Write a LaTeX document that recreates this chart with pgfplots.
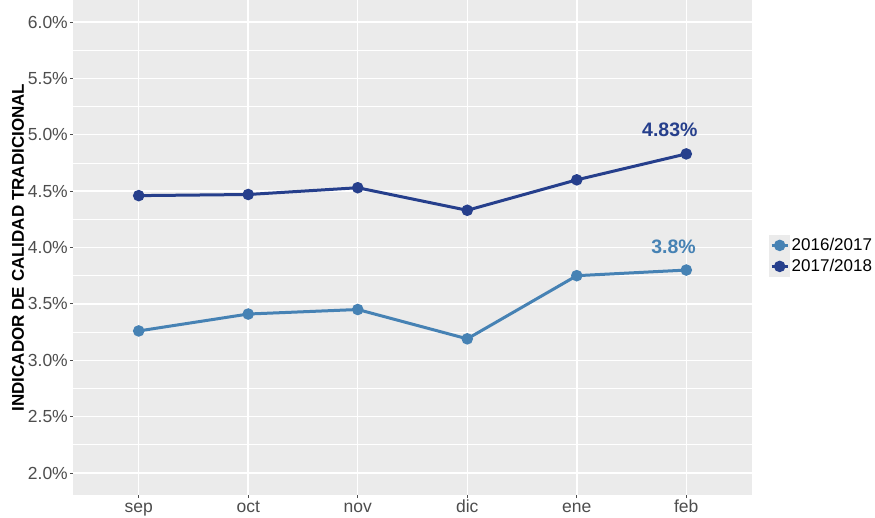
\documentclass[border=0pt]{standalone}
\usepackage{pgfplots}
\pgfplotsset{compat=1.18}
\usepackage{fontspec}
\setmainfont{Liberation Sans}

\definecolor{panelbg}{HTML}{EBEBEB}
\definecolor{tickgray}{HTML}{4D4D4D}
\definecolor{darkblue}{HTML}{263F8C}
\definecolor{steel}{HTML}{4682B4}

\pgfplotstableread{
x  v
0  3.26
1  3.41
2  3.45
3  3.19
4  3.75
5  3.80
}\seasonA
\pgfplotstableread{
x  v
0  4.46
1  4.47
2  4.53
3  4.33
4  4.60
5  4.83
}\seasonB

\begin{document}
\begin{tikzpicture}
\begin{axis}[
  at={(0pt,0pt)}, anchor=south west,
  scale only axis,
  width=679pt, height=495pt,
  xmin=-0.6, xmax=5.6,
  ymin=1.805, ymax=6.195,
  axis line style={draw=none},
  axis background/.style={fill=panelbg},
  xtick={0,...,5},
  xticklabels={sep,oct,nov,dic,ene,feb},
  ytick={2,2.5,...,6},
  yticklabels={2.0\%,2.5\%,3.0\%,3.5\%,4.0\%,4.5\%,5.0\%,5.5\%,6.0\%},
  minor y tick num=1,
  grid=both,
  major grid style={white, line width=1.5pt},
  minor grid style={white, line width=0.8pt},
  tick align=outside,
  major tick length=3pt,
  minor tick length=0pt,
  tick style={tickgray, line width=0.8pt},
  xtick pos=bottom, ytick pos=left,
  ticklabel style={font=\fontsize{17.5}{20}\selectfont, text=tickgray},
  xticklabel style={anchor=base, inner sep=0pt, yshift=-14pt},
  yticklabel style={anchor=east, inner sep=0pt, xshift=-2pt},
  ylabel={\textbf{INDICADOR DE CALIDAD TRADICIONAL}},
  every axis y label/.style={at={(axis description cs:0,0.5)}, rotate=90,
    anchor=center, yshift=55pt, font=\fontsize{17}{20}\selectfont},
  legend style={at={(axis description cs:1,0.483)}, anchor=west, xshift=14pt,
    draw=none, fill=none, font=\fontsize{17}{20}\selectfont,
    row sep=0pt, nodes={inner sep=1.5pt}},
  legend cell align=left,
  legend image code/.code={
    \fill[panelbg] (-1pt,-9pt) rectangle (17pt,9pt);
    \draw[#1,mark repeat=2,mark phase=2] plot coordinates {(0pt,0pt) (8pt,0pt) (16pt,0pt)};
  },
]
\addplot[steel, line width=3pt, mark=*, mark size=4.2pt] table[x=x, y=v] {\seasonA};
\addlegendentry{2016/2017}
\addplot[darkblue, line width=3pt, mark=*, mark size=4.2pt] table[x=x, y=v] {\seasonB};
\addlegendentry{2017/2018}
\node[anchor=base, text=darkblue, font=\fontsize{19.5}{22}\selectfont\bfseries, yshift=17.5pt] at (axis cs:4.85,4.83) {4.83\%};
\node[anchor=base, text=steel, font=\fontsize{19.5}{22}\selectfont\bfseries, yshift=17pt] at (axis cs:4.884,3.80) {3.8\%};
\end{axis}
\pgfresetboundingbox
\path (-73pt,-22pt) rectangle (802pt,495pt);
\end{tikzpicture}
\end{document}
